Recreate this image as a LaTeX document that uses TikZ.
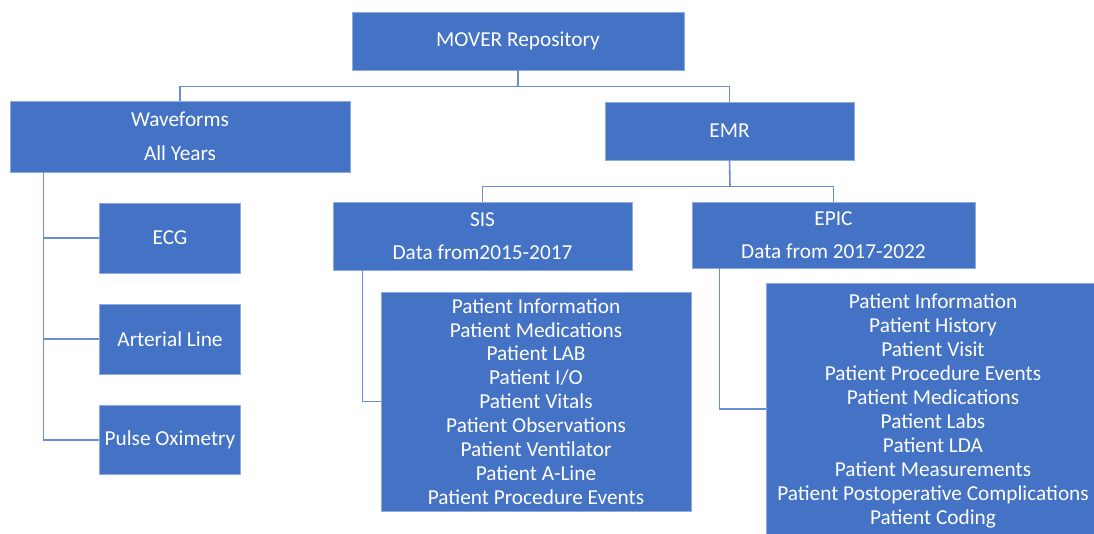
\documentclass[tikz,border=0pt]{standalone}
\usepackage{fontspec}
\setmainfont{Carlito}
\definecolor{boxfill}{HTML}{4472C4}
\definecolor{boxedge}{HTML}{8FAADC}
\definecolor{linkcol}{HTML}{6A8ED3}
\tikzset{
  box/.style={rectangle, fill=boxfill, draw=boxedge, line width=0.8pt, text=white,
    inner sep=0pt, align=center, font=\fontsize{21.3}{33.5}\selectfont},
  listbox/.style={box, font=\fontsize{21.3}{23.9}\selectfont},
  link/.style={draw=linkcol, line width=1.6pt}
}
\begin{document}
\begin{tikzpicture}[x=1pt,y=-1pt]
\useasboundingbox (0,0) rectangle (1094,534);
\node[box, minimum width=332pt, minimum height=58pt] (mover) at (518,41) {MOVER Repository};
\node[box, minimum width=340pt, minimum height=71pt] (wave) at (180,136.5) {Waveforms\\All Years};
\node[box, minimum width=249pt, minimum height=58pt] (emr) at (729.5,131) {EMR};
\node[box, minimum width=299pt, minimum height=68pt] (sis) at (482.5,236) {SIS\\Data from2015-2017};
\node[box, minimum width=283pt, minimum height=66pt] (epic) at (833.5,235) {EPIC\\Data from 2017-2022};
\node[box, minimum width=141pt, minimum height=70pt] (ecg) at (170,238) {ECG};
\node[box, minimum width=141pt, minimum height=70pt] (art) at (170,339) {Arterial Line};
\node[box, minimum width=141pt, minimum height=69pt] (pulse) at (170,440) {Pulse Oximetry};
\node[listbox, minimum width=310pt, minimum height=219pt] (sislist) at (536,401.5)
  {Patient Information\\Patient Medications\\Patient LAB\\Patient I/O\\Patient Vitals\\Patient Observations\\Patient Ventilator\\Patient A-Line\\Patient Procedure Events};
\node[listbox, minimum width=334pt, minimum height=256pt] (epiclist) at (933,411)
  {Patient Information\\Patient History\\Patient Visit\\Patient Procedure Events\\Patient Medications\\Patient Labs\\Patient LDA\\Patient Measurements\\Patient Postoperative Complications\\Patient Coding};
\coordinate (j1) at (518,86.5);
\coordinate (j2) at (730,186.5);
\coordinate (j3) at (720,409);
\draw[link] (mover.south) -- (j1);
\draw[link] (wave.north) |- (j1) -| (emr.north);
\draw[link] (emr.south) -- (j2);
\draw[link] (sis.north) |- (j2) -| (epic.north);
\draw[link] ([xshift=34pt]wave.south west) |- (ecg.west);
\draw[link] ([xshift=34pt]wave.south west) |- (art.west);
\draw[link] ([xshift=34pt]wave.south west) |- (pulse.west);
\draw[link] ([xshift=30pt]sis.south west) |- (sislist.west);
\draw[link] ([xshift=28pt]epic.south west) |- (j3) -- (j3 -| epiclist.west);
\end{tikzpicture}
\end{document}
